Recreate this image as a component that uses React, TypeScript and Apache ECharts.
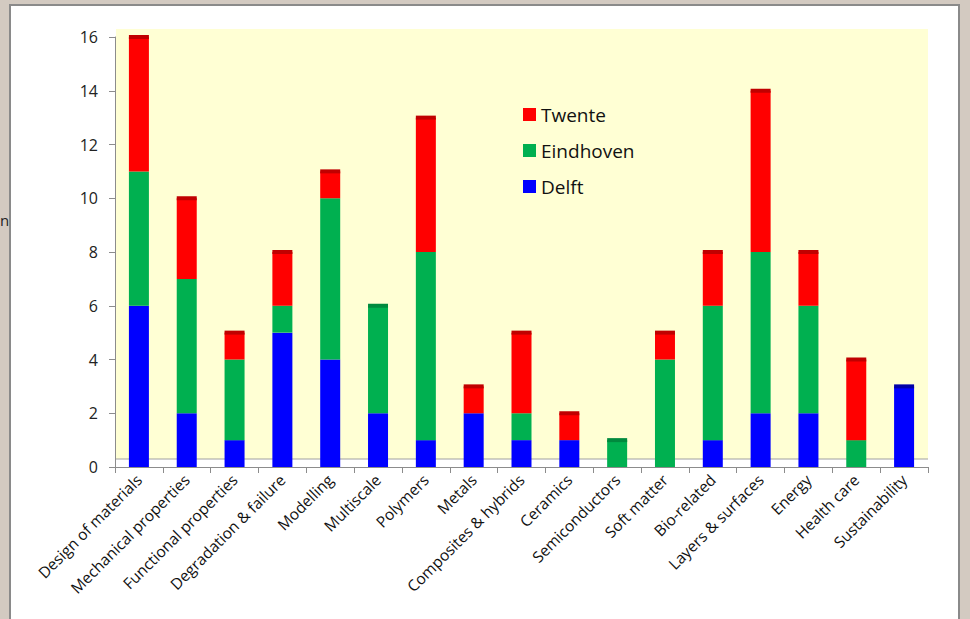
import React, { useEffect, useRef } from "react";
import * as echarts from "echarts";

const categories = [
  "Design of materials",
  "Mechanical properties",
  "Functional properties",
  "Degradation & failure",
  "Modelling",
  "Multiscale",
  "Polymers",
  "Metals",
  "Composites & hybrids",
  "Ceramics",
  "Semiconductors",
  "Soft matter",
  "Bio-related",
  "Layers & surfaces",
  "Energy",
  "Health care",
  "Sustainability",
];
const delft = [6, 2, 1, 5, 4, 2, 1, 2, 1, 1, 0, 0, 1, 2, 2, 0, 3];
const eindhoven = [5, 5, 3, 1, 6, 4, 7, 0, 1, 0, 1, 4, 5, 6, 4, 1, 0];
const twente = [5, 3, 1, 2, 1, 0, 5, 1, 3, 1, 0, 1, 2, 6, 2, 3, 0];
const yTicks = [0, 2, 4, 6, 8, 10, 12, 14, 16];

const COLORS = { Delft: "#0000ff", Eindhoven: "#00b050", Twente: "#ff0000" };
const CAPS = { Delft: "#0000a8", Eindhoven: "#008a3e", Twente: "#c00000" };
const FONT = "Open Sans";

export default function App() {
  const ref = useRef<HTMLDivElement>(null);
  useEffect(() => {
    document.body.style.margin = "0";
    if (!ref.current) return;
    const chart = echarts.init(ref.current, undefined, { renderer: "svg" });

    const caps = categories.map((_, i) => {
      const total = delft[i] + eindhoven[i] + twente[i];
      const top = twente[i] > 0 ? "Twente" : eindhoven[i] > 0 ? "Eindhoven" : "Delft";
      return { value: total, itemStyle: { color: CAPS[top] } };
    });

    chart.setOption({
      animation: false,
      backgroundColor: "#d3cac1",
      textStyle: { fontFamily: FONT },
      graphic: [
        {
          type: "rect",
          z: -10,
          shape: { x: 10, y: 5, width: 949, height: 640 },
          style: { fill: "#ffffff", stroke: "#8a8a8a", lineWidth: 2 },
        },
        {
          type: "rect",
          z: -9,
          shape: { x: 116, y: 29, width: 812, height: 430 },
          style: { fill: "#ffffd4" },
        },
        {
          type: "line",
          z: -8,
          shape: { x1: 116, y1: 459, x2: 928, y2: 459 },
          style: { stroke: "#a0a0a0", lineWidth: 1 },
        },
        {
          type: "text",
          x: 0,
          y: 212,
          style: { text: "n", fontSize: 15, fill: "#222", fontFamily: FONT },
        },
      ],
      legend: {
        data: ["Twente", "Eindhoven", "Delft"],
        orient: "vertical",
        left: 518,
        top: 99,
        icon: "rect",
        itemWidth: 13,
        itemHeight: 13,
        itemGap: 15,
        textStyle: { fontSize: 19, color: "#111", lineHeight: 21, fontFamily: FONT },
      },
      grid: { left: 115, right: 42, top: 37, bottom: 152 },
      xAxis: {
        type: "category",
        data: categories,
        axisLine: { lineStyle: { color: "#8c8c8c", width: 1 } },
        axisTick: { show: true, interval: 0, length: 6, lineStyle: { color: "#8c8c8c" } },
        axisLabel: { interval: 0, rotate: 45, fontSize: 15.5, color: "#111", margin: 10, fontFamily: FONT },
      },
      yAxis: {
        type: "value",
        min: yTicks[0],
        max: yTicks[yTicks.length - 1],
        interval: 2,
        splitLine: { show: false },
        axisLine: { show: true, lineStyle: { color: "#8c8c8c" } },
        axisTick: { show: true, length: 6, lineStyle: { color: "#8c8c8c" } },
        axisLabel: { fontSize: 16, color: "#222", margin: 17, fontFamily: FONT },
      },
      series: [
        {
          name: "Delft",
          type: "bar",
          stack: "total",
          data: delft,
          barWidth: 20,
          itemStyle: { color: COLORS.Delft },
        },
        {
          name: "Eindhoven",
          type: "bar",
          stack: "total",
          data: eindhoven,
          barWidth: 20,
          itemStyle: { color: COLORS.Eindhoven },
        },
        {
          name: "Twente",
          type: "bar",
          stack: "total",
          data: twente,
          barWidth: 20,
          itemStyle: { color: COLORS.Twente },
        },
        {
          name: "caps",
          type: "pictorialBar",
          data: caps,
          symbol: "rect",
          symbolSize: [20, 4],
          symbolPosition: "end",
          symbolOffset: [0, -2],
          z: 5,
          silent: true,
        },
      ],
    });
    return () => chart.dispose();
  }, []);
  return <div ref={ref} style={{ width: 970, height: 619 }} />;
}
